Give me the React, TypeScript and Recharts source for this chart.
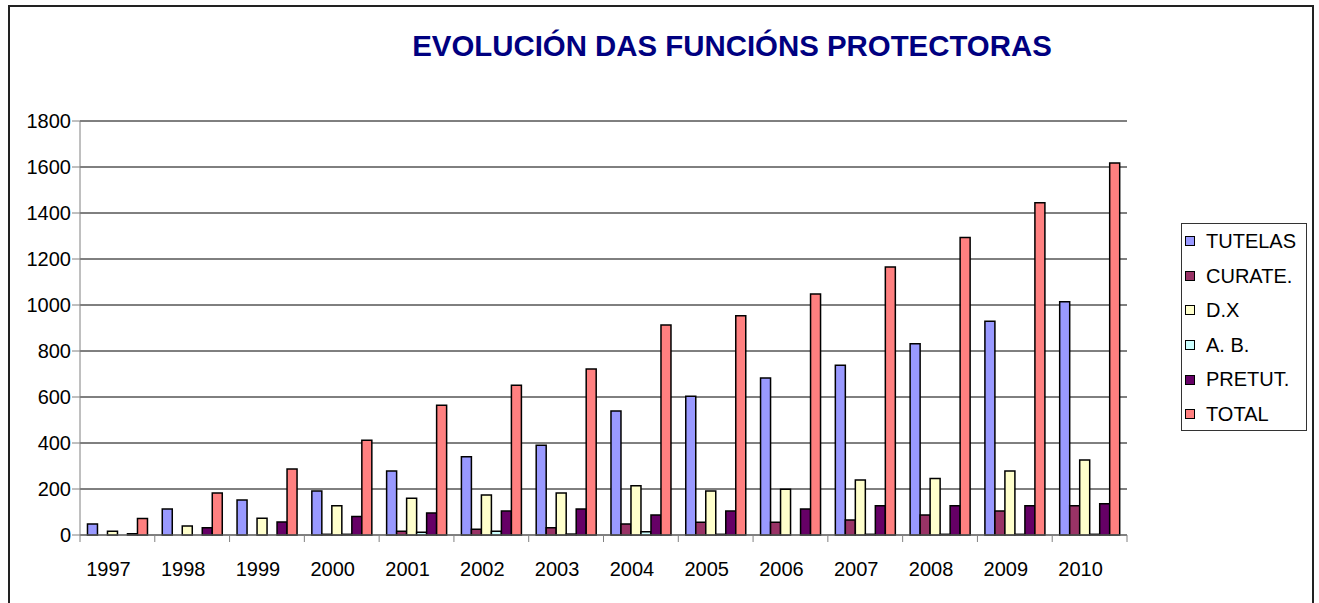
import React from 'react';
import { BarChart, Bar, XAxis, YAxis, CartesianGrid } from 'recharts';

const years = ['1997', '1998', '1999', '2000', '2001', '2002', '2003', '2004', '2005', '2006', '2007', '2008', '2009', '2010'];
const tutelas = [48, 113, 152, 191, 278, 340, 390, 539, 603, 683, 738, 832, 929, 1014];
const curate = [0, 0, 0, 3, 16, 25, 32, 48, 55, 55, 65, 87, 104, 127];
const dx = [16, 39, 73, 127, 160, 174, 183, 214, 191, 199, 239, 246, 278, 326];
const ab = [0, 0, 0, 3, 12, 16, 4, 14, 3, 0, 3, 3, 3, 3];
const pretut = [5, 32, 57, 80, 96, 104, 113, 87, 104, 113, 127, 127, 127, 136];
const total = [72, 183, 287, 412, 564, 651, 722, 913, 953, 1048, 1165, 1294, 1445, 1617];

const seriesNames = ['TUTELAS', 'CURATE.', 'D.X', 'A. B.', 'PRETUT.', 'TOTAL'];
const seriesKeys = ['tutelas', 'curate', 'dx', 'ab', 'pretut', 'total'];
const seriesColors = ['#9999FF', '#993366', '#FFFFCC', '#CCFFFF', '#660066', '#FF8080'];
const yTicks = [0, 200, 400, 600, 800, 1000, 1200, 1400, 1600, 1800];
const title = 'EVOLUCIÓN DAS FUNCIÓNS PROTECTORAS';

const data = years.map((year, i) => ({
  year,
  tutelas: tutelas[i],
  curate: curate[i],
  dx: dx[i],
  ab: ab[i],
  pretut: pretut[i],
  total: total[i],
}));

const FONT = '"Liberation Sans", Arial, sans-serif';

const XTick = (props: any) => {
  const { x, y, payload, index } = props;
  const half = payload && typeof payload.offset === 'number' && payload.offset > 0 ? payload.offset : 37.5;
  const isLast = index === years.length - 1;
  return (
    <g>
      <line x1={x - half} x2={x - half} y1={y} y2={y + 7} stroke="#808080" strokeWidth={1} />
      {isLast && <line x1={x + half} x2={x + half} y1={y} y2={y + 7} stroke="#808080" strokeWidth={1} />}
      <text x={x - 9} y={y + 41} textAnchor="middle" fontSize={20} fontFamily={FONT} fill="#000">
        {payload.value}
      </text>
    </g>
  );
};

export default function App() {
  return (
    <div style={{ position: 'absolute', left: 0, top: 0, width: 1319, height: 603, overflow: 'hidden', background: '#fff' }}>
      <div
        style={{
          position: 'absolute',
          left: 8,
          top: 5,
          width: 1306,
          height: 640,
          border: '2px solid #222',
          boxSizing: 'border-box',
        }}
      />
      <div
        style={{
          position: 'absolute',
          left: 232,
          top: 31,
          width: 1000,
          textAlign: 'center',
          fontFamily: FONT,
          fontWeight: 'bold',
          fontSize: 29.4,
          lineHeight: '29px',
          color: '#000080',
          whiteSpace: 'nowrap',
        }}
      >
        {title}
      </div>
      <div style={{ position: 'absolute', left: 0, top: 0 }}>
        <BarChart
          width={1319}
          height={603}
          data={data}
          margin={{ top: 121, right: 192, bottom: 0, left: 0 }}
          barCategoryGap="10%"
          barGap={0}
        >
          <CartesianGrid vertical={false} stroke="#000" strokeWidth={1} />
          <XAxis
            dataKey="year"
            interval={0}
            height={68}
            tickLine={false}
            tickSize={0}
            tickMargin={0}
            axisLine={{ stroke: '#808080' }}
            tick={<XTick />}
          />
          <YAxis
            width={80}
            domain={[0, 1800]}
            ticks={yTicks}
            interval={0}
            tickSize={8}
            tickMargin={1}
            axisLine={{ stroke: '#808080' }}
            tickLine={{ stroke: '#808080' }}
            tick={{ fontSize: 20, fontFamily: FONT, fill: '#000' }}
          />
          {seriesKeys.map((k, i) => (
            <Bar
              key={k}
              dataKey={k}
              name={seriesNames[i]}
              fill={seriesColors[i]}
              stroke="#000"
              strokeWidth={1.5}
              isAnimationActive={false}
            />
          ))}
        </BarChart>
      </div>
      <div
        style={{
          position: 'absolute',
          left: 1181,
          top: 223,
          width: 126,
          height: 208,
          border: '1px solid #333',
          boxSizing: 'border-box',
          paddingTop: 0,
          fontFamily: FONT,
          fontSize: 20,
          color: '#000',
        }}
      >
        {seriesNames.map((n, i) => (
          <div key={n} style={{ height: 34.6, lineHeight: '34.6px', display: 'flex', alignItems: 'center', whiteSpace: 'nowrap' }}>
            <span
              style={{
                display: 'inline-block',
                width: 10,
                height: 10,
                marginLeft: 3,
                marginRight: 11,
                background: seriesColors[i],
                border: '1px solid #000',
                boxSizing: 'border-box',
              }}
            />
            <span>{n}</span>
          </div>
        ))}
      </div>
    </div>
  );
}
